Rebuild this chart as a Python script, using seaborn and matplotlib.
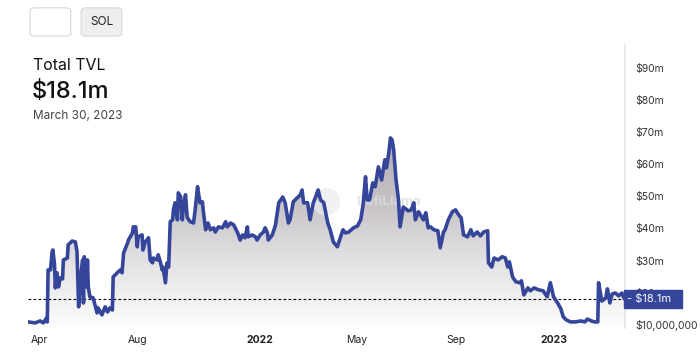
import numpy as np
import pandas as pd
import matplotlib
matplotlib.use("Agg")
import matplotlib.pyplot as plt
import matplotlib.dates as mdates
from matplotlib.colors import LinearSegmentedColormap
from matplotlib.patches import FancyBboxPatch, Ellipse
import seaborn as sns

# --- data: Total TVL (millions USD) ---
dates = [
    "2021-03-18", "2021-03-27", "2021-04-02", "2021-04-06", "2021-04-10", "2021-04-11",
    "2021-04-12", "2021-04-15", "2021-04-17", "2021-04-18", "2021-04-20", "2021-04-21",
    "2021-04-23", "2021-04-25", "2021-04-27", "2021-04-30", "2021-05-01", "2021-05-06",
    "2021-05-07", "2021-05-12", "2021-05-16", "2021-05-18", "2021-05-20", "2021-05-22",
    "2021-05-25", "2021-05-26", "2021-05-27", "2021-05-30", "2021-05-31", "2021-06-01",
    "2021-06-03", "2021-06-07", "2021-06-10", "2021-06-12", "2021-06-13", "2021-06-18",
    "2021-06-22", "2021-06-25", "2021-06-28", "2021-07-01", "2021-07-02", "2021-07-07",
    "2021-07-11", "2021-07-13", "2021-07-15", "2021-07-20", "2021-07-21", "2021-07-26",
    "2021-07-27", "2021-07-30", "2021-08-01", "2021-08-02", "2021-08-07", "2021-08-08",
    "2021-08-11", "2021-08-15", "2021-08-17", "2021-08-20", "2021-08-21", "2021-08-26",
    "2021-08-27", "2021-08-30", "2021-09-01", "2021-09-02", "2021-09-05", "2021-09-07",
    "2021-09-09", "2021-09-11", "2021-09-14", "2021-09-15", "2021-09-17", "2021-09-20",
    "2021-09-21", "2021-09-24", "2021-09-26", "2021-09-27", "2021-09-30", "2021-10-02",
    "2021-10-04", "2021-10-06", "2021-10-10", "2021-10-12", "2021-10-15", "2021-10-16",
    "2021-10-18", "2021-10-21", "2021-10-22", "2021-10-25", "2021-10-28", "2021-10-31",
    "2021-11-04", "2021-11-06", "2021-11-10", "2021-11-15", "2021-11-19", "2021-11-21",
    "2021-11-25", "2021-11-29", "2021-12-04", "2021-12-07", "2021-12-10", "2021-12-13",
    "2021-12-16", "2021-12-17", "2021-12-22", "2021-12-26", "2021-12-28", "2022-01-01",
    "2022-01-05", "2022-01-07", "2022-01-10", "2022-01-11", "2022-01-16", "2022-01-20",
    "2022-01-24", "2022-01-29", "2022-02-01", "2022-02-05", "2022-02-07", "2022-02-10",
    "2022-02-11", "2022-02-16", "2022-02-20", "2022-02-22", "2022-02-24", "2022-03-01",
    "2022-03-04", "2022-03-08", "2022-03-11", "2022-03-14", "2022-03-17", "2022-03-21",
    "2022-03-26", "2022-03-29", "2022-04-02", "2022-04-07", "2022-04-11", "2022-04-14",
    "2022-04-17", "2022-04-21", "2022-04-27", "2022-05-02", "2022-05-06", "2022-05-09",
    "2022-05-12", "2022-05-14", "2022-05-17", "2022-05-21", "2022-05-24", "2022-05-28",
    "2022-06-01", "2022-06-05", "2022-06-07", "2022-06-10", "2022-06-12", "2022-06-14",
    "2022-06-16", "2022-06-19", "2022-06-22", "2022-06-24", "2022-06-28", "2022-07-04",
    "2022-07-08", "2022-07-11", "2022-07-13", "2022-07-17", "2022-07-23", "2022-07-26",
    "2022-07-29", "2022-08-01", "2022-08-05", "2022-08-10", "2022-08-13", "2022-08-17",
    "2022-08-19", "2022-08-23", "2022-08-28", "2022-09-01", "2022-09-05", "2022-09-08",
    "2022-09-11", "2022-09-16", "2022-09-20", "2022-09-23", "2022-09-28", "2022-10-02",
    "2022-10-06", "2022-10-11", "2022-10-12", "2022-10-16", "2022-10-19", "2022-10-24",
    "2022-10-29", "2022-11-02", "2022-11-05", "2022-11-07", "2022-11-11", "2022-11-15",
    "2022-11-20", "2022-11-22", "2022-11-25", "2022-11-30", "2022-12-03", "2022-12-08",
    "2022-12-13", "2022-12-19", "2022-12-24", "2022-12-28", "2023-01-01", "2023-01-06",
    "2023-01-10", "2023-01-13", "2023-01-17", "2023-01-22", "2023-01-28", "2023-02-04",
    "2023-02-09", "2023-02-12", "2023-02-17", "2023-02-21", "2023-02-25", "2023-02-26",
    "2023-03-02", "2023-03-07", "2023-03-09", "2023-03-12", "2023-03-15", "2023-03-19",
    "2023-03-23", "2023-03-27", "2023-03-30",
]
tvl_m = [
    10.9, 10.6, 11.2, 10.6, 12.1, 10.9,
    27.1, 27.1, 32.7, 33.3, 28.7, 21.5,
    26.2, 21.8, 24.6, 24.3, 30.2, 30.8,
    34.9, 36.1, 35.8, 32.7, 15.6, 24.0,
    30.2, 16.8, 31.2, 21.8, 30.2, 21.8,
    18.7, 18.4, 15.6, 13.7, 15.3, 13.1,
    15.6, 14.0, 15.3, 14.6, 24.9, 26.2,
    27.1, 26.2, 32.4, 35.5, 36.4, 38.6,
    40.5, 40.5, 34.3, 37.4, 38.0, 33.3,
    35.8, 37.1, 30.2, 29.3, 30.8, 30.2,
    31.8, 29.3, 27.1, 28.0, 23.1, 29.3,
    28.0, 42.1, 42.7, 45.8, 48.0, 42.7,
    51.1, 49.8, 42.7, 45.8, 50.5, 43.6,
    42.7, 42.1, 41.7, 45.8, 53.0, 51.1,
    48.0, 48.3, 45.8, 39.6, 41.7, 39.6,
    40.2, 38.9, 40.5, 40.2, 42.1, 40.5,
    41.7, 41.1, 38.6, 36.4, 38.0, 37.1,
    40.5, 37.4, 38.0, 37.4, 36.4, 38.0,
    38.9, 40.2, 38.6, 36.4, 38.0, 41.1,
    48.0, 49.8, 48.0, 41.7, 42.7, 46.7,
    48.3, 49.5, 50.5, 52.0, 48.0, 48.0,
    42.7, 48.0, 49.8, 52.0, 48.9, 48.0,
    41.7, 39.6, 35.8, 34.3, 37.4, 39.6,
    38.6, 38.9, 40.2, 40.8, 42.7, 47.4,
    56.1, 48.9, 48.9, 54.2, 53.0, 59.2,
    55.1, 61.4, 58.9, 63.6, 68.2, 67.6,
    64.5, 55.1, 48.9, 40.5, 46.7, 45.5,
    45.8, 48.0, 42.7, 45.2, 42.7, 44.9,
    40.2, 40.5, 39.6, 39.3, 34.0, 38.9,
    39.6, 42.7, 45.2, 45.8, 44.2, 43.3,
    38.0, 37.4, 39.6, 37.7, 38.9, 37.7,
    38.9, 39.3, 29.3, 28.0, 30.8, 30.2,
    31.2, 30.8, 28.0, 29.6, 24.9, 23.4,
    23.1, 23.7, 19.3, 21.5, 20.6, 21.5,
    20.9, 20.6, 18.7, 23.1, 18.7, 16.8,
    15.0, 12.5, 11.5, 10.9, 10.9, 11.2,
    10.9, 11.8, 11.2, 10.9, 10.9, 23.1,
    17.4, 18.4, 21.2, 16.8, 19.6, 19.9,
    19.0, 19.9, 18.1,
]
current_tvl = 18.1
y_ticks = [10, 20, 30, 40, 50, 60, 70, 80, 90]
y_labels = ["$10,000,000", "$20m", "$30m", "$40m", "$50m", "$60m", "$70m", "$80m", "$90m"]
x_ticks = ["2021-04-01", "2021-08-01", "2022-01-01", "2022-05-01", "2022-09-01", "2023-01-01"]
x_labels = ["Apr", "Aug", "2022", "May", "Sep", "2023"]

LINE = "#34459a"
Y_MIN, Y_MAX = 9.0, 97.2

df = pd.DataFrame({"date": pd.to_datetime(dates), "tvl": tvl_m})

sns.set_style("white")
plt.rcParams["font.family"] = ["Inter", "DejaVu Sans"]

fig = plt.figure(figsize=(7, 3.54), dpi=100)
ax = fig.add_axes([0.04, 0.0734, 0.853, 0.8])

# gradient fill under the curve
poly = ax.fill_between(df["date"], df["tvl"], Y_MIN, color="none", lw=0)
x0, x1 = mdates.date2num(df["date"].iloc[0]), mdates.date2num(df["date"].iloc[-1])
cmap = LinearSegmentedColormap.from_list("fade", ["#fdfdfd", "#e4e2e4", "#c4c0c4", "#b0abb0"])
grad = np.linspace(0, 1, 256).reshape(-1, 1)
im = ax.imshow(grad, extent=[x0, x1, Y_MIN, 70], origin="lower", aspect="auto",
               cmap=cmap, zorder=1)
im.set_clip_path(poly.get_paths()[0], transform=ax.transData)

# watermark (under the line)
ax.add_patch(Ellipse((0.466, 0.43), 28 / 700, 28 / 354, transform=fig.transFigure,
                     fc="#ececec", ec="none", alpha=0.7, zorder=1.5))
ax.text(0.555, 0.43, "DefiLlama", transform=fig.transFigure, ha="center", va="center",
        fontsize=9.5, fontweight="bold", color="#dedede", alpha=0.8, zorder=1.5)

sns.lineplot(data=df, x="date", y="tvl", ax=ax, color=LINE, linewidth=2.6, zorder=3)
ax.axhline(current_tvl, color="black", lw=0.8, ls=(0, (2.5, 2)), zorder=2)

ax.set_xlim(mdates.date2num(pd.Timestamp("2021-03-18")), mdates.date2num(pd.Timestamp("2023-03-31")))
ax.set_ylim(Y_MIN, Y_MAX)
ax.set_xlabel("")
ax.set_ylabel("")

ax.set_xticks(pd.to_datetime(x_ticks))
ax.set_xticklabels(x_labels)
for lbl in ax.get_xticklabels():
    lbl.set_fontsize(7.5)
    lbl.set_color("#222222")
    if lbl.get_text().isdigit():
        lbl.set_fontweight("bold")
ax.tick_params(axis="x", length=0, pad=5)

ax.yaxis.tick_right()
ax.set_yticks(y_ticks)
ax.set_yticklabels(y_labels, fontsize=7.5, color="#333333")
ax.tick_params(axis="y", length=0, pad=7)

for side in ["top", "left", "bottom"]:
    ax.spines[side].set_visible(False)
ax.spines["right"].set_color("#e6e6e6")
ax.spines["right"].set_linewidth(1.2)

# current value label, covering the $20m tick like the original
ax.text(1.004, current_tvl, "- $18.1m  ", transform=ax.get_yaxis_transform(),
        ha="left", va="center", fontsize=8, color="white", zorder=10, clip_on=False,
        bbox=dict(boxstyle="square,pad=0.35", fc=LINE, ec=LINE))

# header
fig.patches.append(FancyBboxPatch((0.043, 0.898), 0.058, 0.08,
                                  boxstyle="round,pad=0,rounding_size=0.008",
                                  transform=fig.transFigure, fc="white", ec="#dddddd", lw=1))
fig.patches.append(FancyBboxPatch((0.116, 0.898), 0.058, 0.08,
                                  boxstyle="round,pad=0,rounding_size=0.008",
                                  transform=fig.transFigure, fc="#eeeeee", ec="#dddddd", lw=1))
fig.text(0.145, 0.937, "SOL", ha="center", va="center", fontsize=8.5, color="#222222")
fig.text(0.047, 0.816, "Total TVL", ha="left", va="center", fontsize=11.5, color="#111111")
fig.text(0.046, 0.74, "$18.1m", ha="left", va="center", fontsize=17, color="#111111",
         fontweight="medium")
fig.text(0.047, 0.672, "March 30, 2023", ha="left", va="center", fontsize=8.5, color="#444444")

fig.savefig("out.png", dpi=100, facecolor="white")
